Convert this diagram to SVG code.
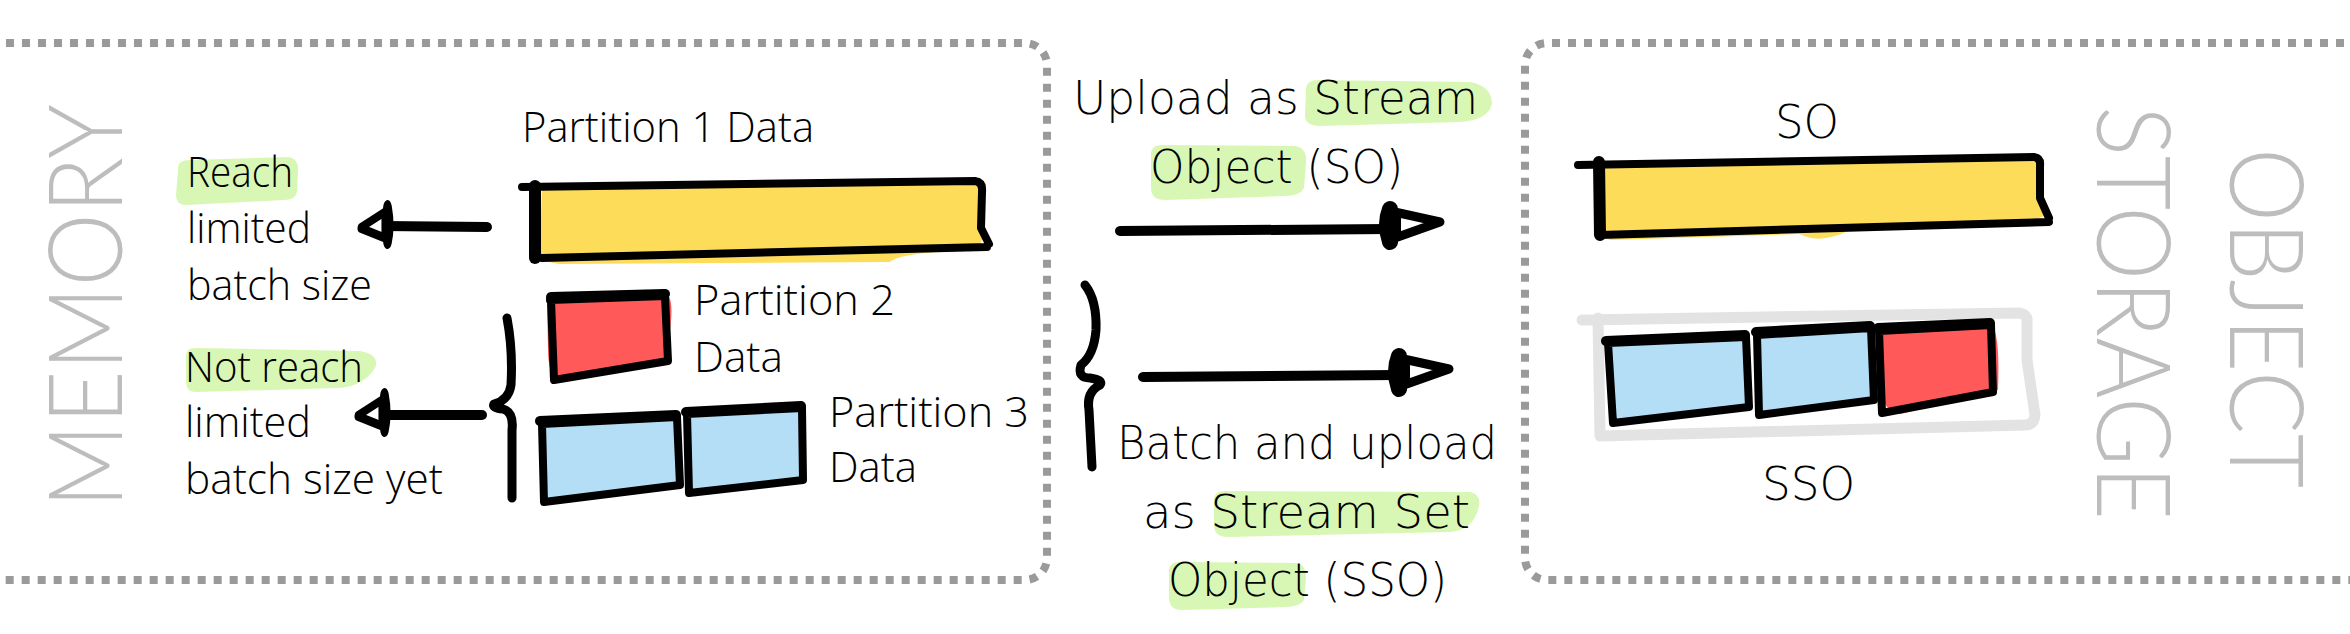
<svg xmlns="http://www.w3.org/2000/svg" width="2350" height="634" viewBox="0 0 2350 634">
<defs>
<style>
.frame{fill:none;stroke:#9a9a9a;stroke-width:8;stroke-dasharray:8 8}
.ol{fill:none;stroke:#000;stroke-width:8;stroke-linecap:round;stroke-linejoin:round}
.hl{fill:#d9f7b4}
.yel{fill:#fddc5a}
.red{fill:#ff5959}
.blu{fill:#b3def5}
.t1{font-family:"Open Sans","Liberation Sans",sans-serif;font-weight:300;font-size:42px;fill:#000}
.t2{font-family:"DejaVu Sans","Liberation Sans",sans-serif;font-weight:300;font-size:46px;fill:#000}
.big{font-family:"Lato","Liberation Sans",sans-serif;font-weight:300;font-size:102px;fill:#bdbdbd}
.ln{fill:none;stroke:#000;stroke-width:10;stroke-linecap:round}
.brace{fill:none;stroke:#000;stroke-width:9;stroke-linecap:round;stroke-linejoin:round}
</style>
<g id="head">
<path d="M-50,-13 L0,-2 L-48,15 Z" fill="#fff" stroke="#000" stroke-width="9" stroke-linejoin="round"/>
<path d="M-50,-15 Q-56,0 -50,18" fill="none" stroke="#000" stroke-width="16" stroke-linecap="round"/>
<path d="M-44,-9 L-44,11" stroke="#000" stroke-width="10"/>
</g>
</defs>
<rect width="2350" height="634" fill="#fff"/>

<g id="memory">
<path class="frame" d="M-10,43 H1025 A22,22 0 0 1 1047,65 V558 A22,22 0 0 1 1025,580 H-10"/>
<text class="big" transform="translate(122,508) rotate(-90)" textLength="404" lengthAdjust="spacingAndGlyphs">MEMORY</text>
</g>

<g id="object-storage">
<path class="frame" d="M2360,43 H1547 A22,22 0 0 0 1525,65 V558 A22,22 0 0 0 1547,580 H2360"/>
<text class="big" transform="translate(2230,148) rotate(90)" textLength="340" lengthAdjust="spacingAndGlyphs">OBJECT</text>
<text class="big" transform="translate(2097,106) rotate(90)" textLength="414" lengthAdjust="spacingAndGlyphs">STORAGE</text>
</g>

<g id="partition1">
<text class="t1" x="522" y="142" textLength="292" lengthAdjust="spacingAndGlyphs">Partition 1 Data</text>
<path class="yel" d="M542,186 L960,181 Q975,176 986,183 L982,240 L978,250 Q900,252 890,262 L560,264 Q540,262 540,250 Z"/>
<path class="ol" d="M522,187 L975,181 Q983,182 982,192 L981,228 L989,244 M987,247 L542,258 Q535,258 535,250 L535,190"/>
<path d="M535,186 L535,258" stroke="#000" stroke-width="12" stroke-linecap="round"/>
</g>

<g id="partition2">
<path class="red" d="M547,298 L667,294 Q674,300 670,330 L670,360 L560,382 Q548,375 548,350 Z"/>
<path class="ol" d="M550,300 L665,296 L668,361 L554,380 L551,300"/>
<path d="M551,297 L665,294" stroke="#000" stroke-width="10" stroke-linecap="round"/>
<text class="t1" x="694" y="315" textLength="201" lengthAdjust="spacingAndGlyphs">Partition 2</text>
<text class="t1" x="694" y="372" textLength="89" lengthAdjust="spacingAndGlyphs">Data</text>
</g>

<g id="partition3">
<path class="blu" d="M543,424 L675,417 L679,482 L548,501 Z"/>
<path class="blu" d="M688,414 L800,410 L802,478 L691,492 Z"/>
<path class="ol" d="M542,424 L677,417 L680,485 L544,502 L542,424"/>
<path class="ol" d="M687,414 L802,408 L803,480 L689,493 L687,414"/>
<path d="M540,421 L676,415 M686,412 L801,406" stroke="#000" stroke-width="10" stroke-linecap="round"/>
<text class="t1" x="829" y="427" textLength="200" lengthAdjust="spacingAndGlyphs">Partition 3</text>
<text class="t1" x="829" y="482" textLength="88" lengthAdjust="spacingAndGlyphs">Data</text>
</g>

<g id="label-reach">
<path class="hl" d="M178,170 Q177,160 190,160 L288,157 Q299,158 298,172 L297,192 Q296,199 285,200 L186,205 Q176,205 176,195 Z"/>
<text class="t1" x="187" y="187" textLength="106" lengthAdjust="spacingAndGlyphs">Reach</text>
<text class="t1" x="187" y="243" textLength="124" lengthAdjust="spacingAndGlyphs">limited</text>
<text class="t1" x="187" y="300" textLength="185" lengthAdjust="spacingAndGlyphs">batch size</text>
</g>

<g id="label-notreach">
<path class="hl" d="M186,357 Q185,348 196,348 L358,351 Q378,353 376,366 Q366,385 340,388 L196,392 Q186,392 186,382 Z"/>
<text class="t1" x="185" y="382" textLength="178" lengthAdjust="spacingAndGlyphs">Not reach</text>
<text class="t1" x="185" y="437" textLength="126" lengthAdjust="spacingAndGlyphs">limited</text>
<text class="t1" x="185" y="494" textLength="258" lengthAdjust="spacingAndGlyphs">batch size yet</text>
</g>

<g id="label-so-upload">
<path class="hl" d="M1306,92 Q1305,80 1318,80 L1470,82 Q1492,86 1492,104 Q1488,120 1460,122 L1320,126 Q1305,126 1305,115 Z"/>
<path class="hl" d="M1151,156 Q1150,145 1162,145 L1295,146 Q1307,148 1306,162 L1304,188 Q1300,196 1285,196 L1165,200 Q1151,200 1151,188 Z"/>
<text class="t2" x="1073" y="114" textLength="405" lengthAdjust="spacingAndGlyphs">Upload as Stream</text>
<text class="t2" x="1150" y="183" textLength="253" lengthAdjust="spacingAndGlyphs">Object (SO)</text>
</g>

<g id="label-sso-upload">
<path class="hl" d="M1214,502 Q1213,491 1225,491 L1470,492 Q1481,494 1479,506 Q1474,530 1450,532 L1228,537 Q1214,537 1214,525 Z"/>
<path class="hl" d="M1169,573 Q1168,562 1180,562 L1296,563 Q1307,565 1306,578 L1304,600 Q1300,607 1285,607 L1182,610 Q1169,610 1169,598 Z"/>
<text class="t2" x="1117" y="459" textLength="380" lengthAdjust="spacingAndGlyphs">Batch and upload</text>
<text class="t2" x="1143" y="528" textLength="327" lengthAdjust="spacingAndGlyphs">as Stream Set</text>
<text class="t2" x="1168" y="596" textLength="279" lengthAdjust="spacingAndGlyphs">Object (SSO)</text>
</g>

<g id="so">
<text class="t2" x="1775" y="138" textLength="64" lengthAdjust="spacingAndGlyphs">SO</text>
<path class="yel" d="M1600,166 L2025,158 Q2035,156 2040,162 L2046,215 L2030,222 L1850,230 Q1820,245 1800,234 L1610,240 Q1598,236 1600,220 Z"/>
<path class="ol" d="M1578,165 L2034,157 Q2041,158 2040,166 L2040,198 L2049,218 M2049,222 L1600,235 L1598,166"/>
<path d="M1599,162 L1600,235" stroke="#000" stroke-width="12" stroke-linecap="round"/>
</g>

<g id="sso">
<path d="M1582,320 L2020,313 Q2028,315 2027,322 L2027,360 L2035,415 Q2034,425 2025,425 L1600,436 L1598,318" fill="none" stroke="#e3e3e3" stroke-width="11" stroke-linecap="round" stroke-linejoin="round"/>
<path class="blu" d="M1610,344 L1746,338 L1750,405 L1614,422 Z"/>
<path class="blu" d="M1758,335 L1870,329 L1873,400 L1760,414 Z"/>
<path class="red" d="M1880,331 L1993,326 Q2000,340 1998,390 L1900,414 Q1882,410 1881,390 Z"/>
<path class="ol" d="M1608,343 L1746,337 L1749,407 L1613,423 L1608,343"/>
<path class="ol" d="M1757,335 L1871,328 L1874,400 L1759,415 L1757,335"/>
<path class="ol" d="M1879,331 L1991,325 L1993,392 L1882,413 L1879,331"/>
<path d="M1606,341 L1745,335 M1756,332 L1870,326 M1878,328 L1990,323" stroke="#000" stroke-width="10" stroke-linecap="round"/>
<text class="t2" x="1762" y="500" textLength="93" lengthAdjust="spacingAndGlyphs">SSO</text>
</g>

<g id="connectors">
<path class="ln" d="M487,227 L382,226"/>
<use href="#head" transform="translate(360,226) rotate(180) scale(0.55,1)"/>
<path class="ln" d="M482,415 L379,415"/>
<use href="#head" transform="translate(357,414) rotate(180) scale(0.55,1)"/>
<path class="brace" d="M507,318 Q513,350 511,385 Q509,400 494,404 Q492,408 503,409 Q514,412 512,430 L512,498"/>
<path class="ln" d="M1120,231 L1388,229"/>
<use href="#head" transform="translate(1440,224)"/>
<path class="ln" d="M1143,377 L1398,375"/>
<use href="#head" transform="translate(1449,371)"/>
<path class="brace" d="M1085,285 Q1097,300 1096,330 Q1094,355 1081,365 Q1077,378 1090,378 Q1104,380 1100,385 Q1086,392 1089,410 L1092,467"/>
</g>
</svg>
